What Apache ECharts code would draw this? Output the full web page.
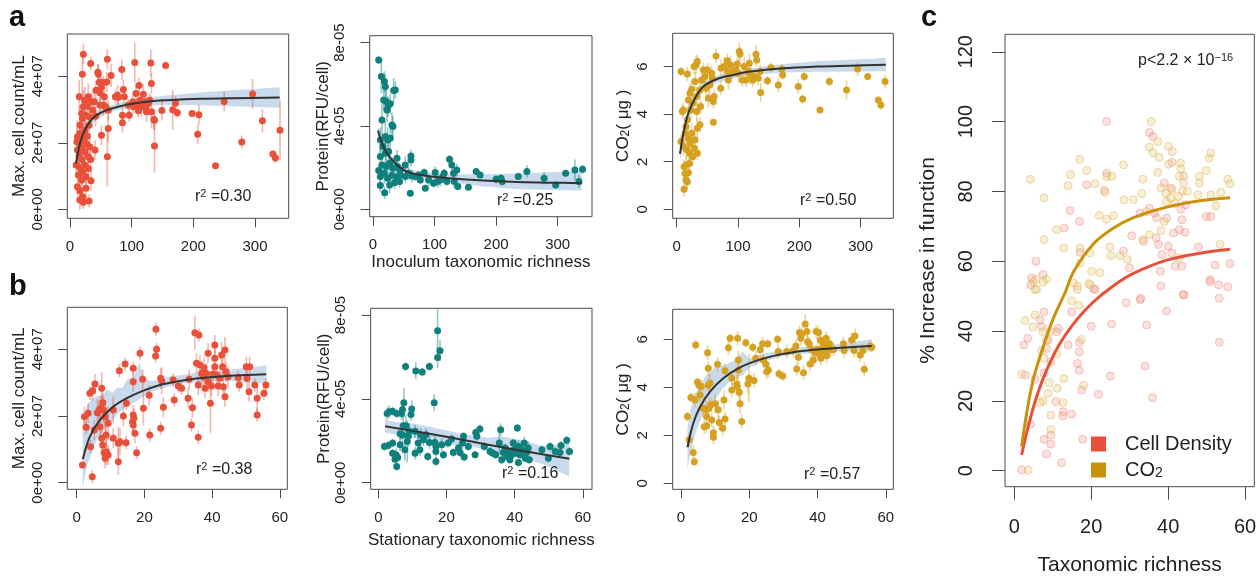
<!DOCTYPE html>
<html><head><meta charset="utf-8">
<script src="https://cdn.jsdelivr.net/npm/echarts@6/dist/echarts.min.js"></script>
<style>html,body{margin:0;padding:0;background:#fff}#c{width:1260px;height:576px}</style>
</head><body><div id="c"></div>
<script>
// ---------------- tick values / labels ----------------
const inocTicks = [0, 100, 200, 300];
const statTicks = [0, 20, 40, 60];
const cellTicks = [0, 2, 4];               // x 1e7
const cellTickLabels = ['0e+00', '2e+07', '4e+07'];
const protTicks = [0, 4, 8];               // x 1e-5
const protTickLabels = ['0e+00', '4e-05', '8e-05'];
const co2Ticks = [0, 2, 4, 6];
const co2TickLabels = ['0', '2', '4', '6'];
const pctTicks = [0, 20, 40, 60, 80, 100, 120];
const pctTickLabels = ['0', '20', '40', '60', '80', '100', '120'];
const r2Labels = ['0.30', '0.25', '0.50', '0.38', '0.16', '0.57'];

// ---------------- a: inoculum richness ([x, y, errHalf]) ----------------
const aCell = [[149,2.97,0.3],[155,4.32,0.12],[166.5,2.99,0.6],[171,3.19,0.2],[174,2.9,0.15],[198,2.88,0.1],[209,2.84,0.3],[207,2.26,0.3],[236,1.31,0.05],[250,3.24,0.3],[278.5,2.02,0.2],[296,3.47,0.45],[312,2.66,0.35],[329,1.66,0.1],[333,1.54,0.15],[340.5,2.38,0.9],[137,1.9,0.8],[136,2.7,0.3],
[105,4.41,0.6],[131,4.4,0.4],[132,3.78,0.3],[112,3.72,0.25],[107,3.48,0.3],[119,3.46,0.3],[102,3.23,0.2],[113.5,3.28,0.2],[122,3.23,0.25],[127,3.18,0.2],[109,3.13,0.2],[116,3.08,0.3],[103,3.08,0.2],[123,3.06,0.2],[124,2.93,0.3],[132,2.93,0.5],[111,2.96,0.2],[96,2.83,0.2],[129,3.28,0.2],[137,2.68,0.3],
[84,4.2,0.3],[86.5,3.6,0.3],[88,3.38,0.2],[77,3.43,0.3],[73.5,3.38,0.2],[78,3.36,0.2],[85,2.83,0.3],[85,2.6,0.3],[94.6,3.13,0.2],[66.5,4.02,0.35],
[60.5,4.51,0.3],[45,4.12,0.25],[46,4.06,0.3],[47.6,3.82,0.3],[54,3.81,0.2],[59.5,3.83,0.3],[51,3.68,0.3],[42,3.58,0.3],[49,3.5,0.4],[55.7,3.38,0.3],[48.6,3.13,0.3],[54,3.13,0.3],[58,3.08,0.2],[62,2.98,0.3],[62,2.43,0.4],[51,2.23,0.3],[60.5,1.58,0.9],[41.6,2.8,0.3],
[21.6,4.66,0.3],[33.5,4.38,0.2],[20,4.06,0.6],[29.7,3.38,0.4],[15,3.38,0.5],[24,3.28,0.4],[35,3.23,0.3],[39.5,3.23,0.4],[28,3.1,0.4],[21.6,3.08,0.5],[36.8,2.98,0.3],[19,2.88,0.5],[25,2.83,0.4],[31,2.78,0.4],[20,2.73,0.5],[16,2.53,0.6],[31,2.53,0.4],[24,2.38,0.5],[16,2.28,0.4],[12,2.18,0.5],[28,2.2,0.4],[21.6,2.1,0.5],[11,2.03,0.4],[16,1.98,0.5],[27,1.96,0.4],[32,1.88,0.4],[19,1.83,0.5],[12,1.78,0.4],[40.5,1.78,0.3],[24,1.73,0.4],[15,1.63,0.5],[29.7,1.58,0.4],[19,1.5,0.5],[33.5,1.5,0.4],[10,1.33,0.3],[24,1.33,0.4],[16,1.25,0.4],[29.7,1.23,0.4],[20.5,1.13,0.4],[13.5,1.03,0.4],[26,0.98,0.4],[19,0.88,0.4],[34,0.86,0.3],[12,0.68,0.3],[26,0.63,0.4],[16,0.56,0.3],[20.5,0.38,0.3],[16,0.28,0.3],[21.6,0.21,0.2],[31,0.25,0.2]];
const aCellFitX = [10,16,24,32,43,59.5,81,103,130,157,211,265,340];
const aCellFitY = [1.38,1.98,2.38,2.63,2.83,2.98,3.1,3.18,3.25,3.28,3.32,3.34,3.36];
const aCellLo = [1.13,1.76,2.2,2.48,2.7,2.88,3.0,3.08,3.13,3.14,3.13,3.1,3.05];
const aCellHi = [1.63,2.2,2.56,2.78,2.96,3.08,3.2,3.28,3.37,3.42,3.51,3.58,3.67];

const aProt = [[9.2,7.17,0.2],[13.5,6.37,0.8],[18.4,6.13,0.5],[20,5.89,0.6],[17.3,5.25,0.5],[21.6,5.17,0.6],[24.3,4.93,0.5],[28,5.06,0.5],[33.5,5.7,0.6],[36.2,5.73,0.4],[14.6,4.29,0.8],[22.7,4.77,0.6],[30.8,4.05,0.6],[32.4,3.97,0.5],[11.9,3.33,0.6],[20,3.49,0.7],[23.8,3.33,0.6],[28,3.41,0.6],[16.2,3.01,0.5],[11.9,2.53,0.6],[20,2.69,0.6],[25.4,2.77,0.5],[38.9,2.45,0.4],
[9.2,1.86,0.3],[14.6,2.13,0.5],[21.6,2.05,0.5],[27,2.21,0.4],[32.4,1.97,0.5],[38.9,2.05,0.4],[44.3,1.89,0.3],[52.4,2.13,0.4],[61.6,2.56,0.3],[61.6,2.37,0.3],[11.9,1.57,0.4],[18.4,1.73,0.5],[23.8,1.49,0.5],[30.8,1.65,0.4],[37.8,1.54,0.4],[44.3,1.65,0.3],[52.4,1.57,0.3],[57.8,1.73,0.3],[63.2,1.6,0.3],[11.9,1.14,0.3],[18.9,0.8,0.3],[27,1.17,0.4],[35,1.28,0.3],[43.2,1.33,0.3],[60.5,0.77,0.1],[68.6,1.57,0.2],[74,1.65,0.2],[76.8,1.41,0.2],[83.2,1.76,0.2],[84.9,1.01,0.1],[90.3,1.41,0.3],[98.4,1.25,0.2],[101,1.76,0.3],[104.9,1.33,0.3],[109.2,1.41,0.3],[113.5,1.57,0.3],[115.7,1.73,0.2],[120,1.33,0.2],[124.3,2.4,0.2],[128,2.13,0.3],[130.8,1.73,0.4],[132,1.33,0.3],[136.2,1.89,0.3],[137.8,1.09,0.1],[155,1.06,0.1],[167.6,1.81,0.1],[174,1.65,0.1],[200,1.44,0.2],[208,1.49,0.2],[210,1.33,0.2],[236,1.57,0.1],[250,1.81,0.3],[278,1.49,0.3],[296.8,1.17,0.1],[313,1.73,0.1],[328,1.89,0.5],[334.6,1.33,0.3],[340.5,1.92,0.2]];
const aProtFitX = [8.1,14.6,22.7,36.2,55,82,125,179.5,233.5,287.6,339];
const aProtFitY = [3.78,3.17,2.69,2.21,1.81,1.62,1.49,1.38,1.31,1.28,1.25];
const aProtLo = [3.56,3.0,2.53,2.07,1.67,1.48,1.3,1.1,0.98,0.93,0.9];
const aProtHi = [4.0,3.35,2.85,2.35,1.95,1.76,1.68,1.68,1.72,1.78,1.84];

const aCO2 = [[7,5.79,0.2],[9.2,4.11,0.3],[10.9,4.18,0.3],[7,2.85,0.3],[10.9,2.64,0.4],[12,1.79,0.3],[15.2,1.86,0.4],[13.6,1.51,0.3],[15.2,1.23,0.4],[12,0.84,0.3],[19,1.54,0.3],[17.4,1.16,0.3],[20.7,1.93,0.4],[13.6,3.2,0.4],[15.2,3.48,0.4],[17.4,3.76,0.4],[19,2.99,0.4],[16.3,2.5,0.4],[21.7,2.78,0.5],[24.5,3.2,0.4],[20.7,2.36,0.4],[26,2.21,0.4],[28.8,2.57,0.4],[29.9,2.92,0.4],[22.8,4.18,0.4],[26,4.46,0.4],[21.7,4.88,0.4],[19,4.6,0.4],[24.5,5.05,0.4],[17.4,5.69,0.3],[29.9,5.37,0.4],[31.5,6.07,0.4],[33.7,6.21,0.3],[28.3,6.0,0.3],[32.6,4.74,0.4],[32.6,4.11,0.4],[33.7,3.41,0.4],[33.7,2.36,0.3],[38,3.55,0.3],[39,4.32,0.3],[38,5.02,0.4],[40.8,5.44,0.4],[43.5,5.86,0.3],[46.2,5.58,0.4],[47.8,5.09,0.4],[50,5.86,0.3],[51.6,4.67,0.4],[54.3,5.23,0.4],[57,5.72,0.3],[58.2,5.51,0.3],[59.8,4.53,0.3],[60.9,4.74,0.3],[59.8,3.66,0.1],[64.1,6.45,0.3],[71.7,5.09,0.3],[72.3,5.93,0.4],[77.2,6.0,0.4],[82.6,6.25,0.3],[83.2,5.79,0.4],[84.2,5.44,0.4],[88,6.07,0.4],[90.8,5.79,0.3],[96.7,5.86,0.3],[100.5,5.72,0.4],[102,6.63,0.4],[103.3,6.53,0.3],[98.9,6.11,0.3],[107,5.44,0.3],[110,6.0,0.4],[113,5.44,0.3],[116.8,5.79,0.4],[118.5,6.14,0.4],[120.6,5.65,0.4],[123.9,5.44,0.3],[126.6,5.58,0.3],[129.3,6.52,0.4],[130.4,6.28,0.3],[133,5.51,0.3],[135.9,5.79,0.3],[137,4.91,0.4],[148,5.4,0.2],[153.8,5.96,0.2],[165.8,5.23,0.3],[171.2,5.9,0.2],[172.8,5.65,0.2],[198.4,5.16,0.3],[205.4,4.64,0.2],[208,5.58,0.2],[233.7,4.18,0.1],[249,5.37,0.2],[277,5.02,0.4],[295,5.9,0.3],[311.4,5.58,0.1],[328.8,4.6,0.1],[333,4.39,0.2],[339.7,5.37,0.3]];
const aCO2FitX = [5.4,10.9,19,29.9,43.5,65,92.4,119.6,174,228,282.6,341];
const aCO2FitY = [2.33,3.2,4.04,4.67,5.16,5.47,5.65,5.79,5.93,6.0,6.04,6.08];
const aCO2Lo = [1.98,2.9,3.79,4.47,4.98,5.32,5.51,5.65,5.75,5.78,5.79,5.8];
const aCO2Hi = [2.68,3.5,4.29,4.87,5.34,5.62,5.79,5.93,6.11,6.22,6.29,6.36];

// ---------------- b: stationary richness ----------------
const bCell = [[1.7,0.53,0.1],[4.6,0.18,0.2],[2.3,1.98,0.3],[2.8,1.66,0.2],[3.4,2.08,0.3],[3.9,2.68,0.2],[4.7,2.76,0.3],[4.1,1.08,0.2],[5.4,2.96,0.3],[5.2,1.58,0.3],[6.1,2.1,0.4],[6.6,2.18,0.3],[7.1,2.23,0.4],[7.4,2.83,0.5],[6.9,1.68,0.4],[7.4,1.33,0.4],[7.7,1.13,0.3],[7.7,2.4,0.5],[7.9,2.18,0.4],[8.4,1.98,0.5],[8.7,1.43,0.4],[8.1,0.9,0.3],[8.4,0.73,0.3],[8.8,0.93,0.4],[9.3,0.83,0.3],[9.3,1.78,0.5],[10.8,2.18,0.4],[10.8,1.33,0.3],[12.3,1.18,0.5],[12.3,0.63,0.4],[12.8,1.23,0.4],[12.6,3.36,0.2],[14.3,3.56,0.2],[13.8,2.0,0.3],[14.6,1.2,0.2],[14.7,2.38,0.2],[16.7,3.43,0.2],[16.7,3.03,0.3],[16.7,2.03,0.3],[16.9,1.93,0.3],[16.5,1.83,0.3],[16.7,1.73,0.3],[17.2,1.48,0.3],[17.7,0.9,0.2],[18.7,3.88,0.2],[19.5,3.1,0.3],[19.7,2.23,0.5],[21.4,2.62,0.3],[21.6,1.43,0.2],[23.4,4.6,0.2],[23.6,4.0,0.2],[23.3,3.8,0.2],[24.8,3.13,0.3],[25.1,3.06,0.4],[25.6,2.26,0.3],[24.8,1.63,0.2],[28.5,3.08,0.2],[28.8,2.48,0.2],[30,2.9,0.2],[31,2.83,0.2],[32.9,2.53,0.3],[33.2,3.1,0.3],[33.9,1.73,0.2],[34.2,2.25,0.3],[34.9,4.5,0.5],[36.1,4.43,0.2],[35.4,3.58,0.3],[35.9,2.93,0.3],[35.9,1.36,0.2],[36.4,3.53,0.3],[36.9,3.28,0.3],[37.4,3.18,0.3],[37.6,3.45,0.3],[37.9,2.83,0.3],[38.3,3.28,0.3],[38.8,3.03,0.3],[38.8,3.88,0.3],[39.5,2.38,0.9],[39.8,2.9,0.3],[40.3,3.26,0.3],[40.8,4.13,0.3],[40.8,3.73,0.3],[40.8,3.48,0.3],[41.3,3.23,0.3],[41.8,2.9,0.3],[42.3,3.13,0.3],[42.8,3.83,0.4],[43.1,3.48,0.3],[43.3,2.88,0.3],[43.8,3.98,0.4],[43.8,2.58,0.3],[44.1,3.33,0.3],[44.7,3.18,0.3],[47.7,3.15,0.2],[48,2.93,0.2],[50.1,3.48,0.3],[50.3,3.13,0.3],[50.9,2.73,0.3],[51.1,3.48,0.3],[52.6,2.93,0.2],[53.3,2.03,0.2],[53.3,2.53,0.4],[55.3,2.68,0.2],[55.9,2.93,0.2]];
const bCellFitX = [1.8,3.9,6.9,10.8,14.7,19.7,24.6,29.5,34.4,39.3,44.2,50.1,56];
const bCellFitY = [0.7,1.38,1.88,2.28,2.53,2.76,2.93,3.03,3.11,3.16,3.2,3.23,3.25];
const bCellBandX = [1.8,3,4.5,6,7.5,9,10.5,12,13.5,15,17,18.5,20,22,25,28,31,34,37,40,43,46,50,53,56];
const bCellLo = [-0.15,0.5,0.9,1.3,1.5,1.75,1.85,2.05,2.2,2.3,2.4,2.5,2.6,2.72,2.82,2.9,2.98,3.0,3.02,3.05,3.05,3.05,3.0,3.0,2.97];
const bCellHi = [1.9,2.3,2.5,2.6,2.6,2.8,2.7,2.85,2.85,3.1,3.2,3.6,3.1,3.05,3.1,3.2,3.22,3.28,3.32,3.33,3.36,3.4,3.45,3.48,3.52];

const bProt = [[17.4,7.25,1.1],[18.1,6.29,0.5],[17.4,5.97,0.5],[8,5.54,0.2],[11,5.33,0.4],[12.9,5.28,0.2],[15,5.54,0.2],[16.4,3.81,0.4],[2.6,3.3,0.3],[3.2,3.38,0.3],[4.2,3.41,0.2],[5.4,3.3,0.2],[7.5,3.81,0.7],[7.1,3.49,0.4],[6.8,3.3,0.3],[9.8,3.52,0.4],[9.6,3.25,0.3],[7.3,2.72,0.4],[8.1,2.72,0.5],[9.1,2.45,0.4],[10.8,2.45,0.3],[8.8,2.21,0.5],[8.5,1.97,1.0],[7.8,1.57,0.5],[7.1,2.26,0.4],[6.4,2.34,0.3],[1.8,1.73,0.2],[2.9,1.78,0.2],[4.2,1.89,0.2],[4.2,1.41,0.2],[5.2,1.33,0.3],[4.9,1.12,0.2],[5.7,1.2,0.2],[5.4,0.77,0.2],[6.4,1.81,0.3],[10.8,1.41,0.3],[11.7,1.89,0.3],[12.2,1.57,0.3],[12.4,2.29,0.3],[13.2,2.05,0.3],[14,2.29,0.3],[14.5,1.25,0.2],[15,1.92,0.3],[16.6,1.92,0.3],[16.9,1.73,0.3],[16.9,1.49,0.3],[16.9,1.01,0.2],[18.6,1.81,0.3],[19.1,1.33,0.2],[20.5,1.89,0.2],[21.5,2.08,0.2],[22,1.44,0.2],[23.5,1.65,0.2],[24,1.44,0.2],[25,2.21,0.2],[24.7,1.89,0.3],[25.2,1.22,0.2],[26.4,1.73,0.2],[28.6,2.4,0.2],[28.9,2.21,0.2],[29.8,2.56,0.2],[28.4,1.33,0.1],[31.1,1.73,0.2],[32.8,1.49,0.2],[33.6,1.41,0.2],[34.5,1.33,0.2],[35.5,1.89,0.5],[35.9,2.53,0.3],[36.2,1.09,0.2],[36.7,1.44,0.3],[37.2,1.65,0.2],[37.7,1.25,0.2],[38.2,1.49,0.2],[38.6,1.09,0.2],[39.1,1.33,0.2],[39.6,1.89,0.2],[39.8,1.57,0.2],[40.4,1.41,0.2],[40.8,2.61,0.2],[41.1,1.73,0.3],[41.1,0.96,0.2],[41.6,1.33,0.2],[42.1,1.57,0.2],[42.8,1.89,0.3],[43.1,1.17,0.2],[43.5,1.44,0.2],[44,1.65,0.3],[44.3,1.09,0.2],[48,1.57,0.2],[49.9,1.17,0.2],[50.4,1.73,0.2],[51.9,1.49,0.2],[53.3,1.44,0.2],[53.6,1.78,0.2],[55.3,2.02,0.2],[56.1,1.49,0.2]];
const bProtFitX = [2,15,28.9,42,56.1];
const bProtFitY = [2.69,2.33,1.92,1.52,1.14];
const bProtBandX = [2,5,8,11,14,17,20,24,28,32,36,40,44,48,52,56];
const bProtLo = [2.4,2.3,2.2,2.1,2.0,1.9,1.85,1.75,1.7,1.55,1.4,1.25,1.1,0.9,0.6,0.3];
const bProtHi = [3.0,2.9,2.85,2.8,2.7,2.6,2.5,2.35,2.25,2.15,2.2,2.1,1.95,1.75,1.8,2.0];

const bCO2 = [[1.9,2.78,0.2],[2.4,1.81,0.3],[2.9,3.58,0.2],[3.6,1.28,0.3],[3.9,0.9,0.2],[4.3,5.76,0.2],[4.1,3.47,0.3],[4.8,4.21,0.2],[5.3,4.07,0.3],[5.6,3.68,0.3],[5.9,4.03,0.3],[6.5,3.13,0.4],[6.8,2.36,0.3],[7.3,3.06,0.4],[7.5,2.39,0.3],[7.5,2.78,0.3],[7.8,5.44,0.3],[8,4.79,0.3],[8,4.1,0.3],[8.2,3.13,0.4],[8.5,4.17,0.4],[8.7,3.26,0.3],[9,2.64,0.3],[9.5,2.11,0.3],[9.5,1.92,0.3],[10,3.31,0.4],[10.7,4.96,0.3],[10.9,3.06,0.4],[11.2,2.53,0.3],[12.2,2.29,0.3],[12.6,3.47,0.4],[12.9,4.69,0.3],[12.9,2.68,0.3],[13.9,5.65,0.3],[14.4,6.04,0.2],[14.9,4.38,0.3],[14.9,3.89,0.3],[16.3,4.13,0.4],[16.5,4.03,0.4],[16.6,6.04,0.3],[16.8,5.14,0.4],[16.8,4.72,0.4],[17.1,3.79,0.5],[17.3,3.31,0.4],[17.8,2.57,0.3],[19,5.86,0.2],[19.6,4.14,0.4],[19.9,4.38,1.0],[21,5.67,0.2],[21.4,4.28,0.3],[21.9,5.21,0.3],[23.2,5.56,0.3],[23.9,5.81,0.3],[24.1,5.14,0.3],[24.9,4.96,0.3],[25.1,4.65,0.3],[25.4,5.81,0.2],[25.6,4.72,0.3],[28.3,6.0,0.2],[28.5,5.49,0.3],[28.7,4.56,0.2],[29.8,4.47,0.2],[31,5.49,0.3],[32.9,5.53,0.3],[33.7,5.72,0.3],[33.9,4.76,0.3],[34.4,5.25,0.3],[34.7,6.28,0.3],[35.1,6.04,0.3],[35.4,6.22,0.3],[35.9,4.61,0.3],[36.4,6.64,0.4],[36.9,6.32,0.3],[37.1,5.9,0.3],[37.6,5.81,0.3],[37.8,4.97,0.3],[38.3,5.56,0.3],[38.8,5.14,0.3],[39.3,5.44,0.3],[39.6,6.32,0.3],[40,5.58,0.3],[40.3,6.28,0.3],[40.6,5.35,0.3],[40.8,5.97,0.3],[41,5.21,0.3],[41.3,5.61,0.3],[41.7,5.81,0.3],[42.2,5.49,0.3],[42.5,6.04,0.3],[42.7,5.31,0.3],[43,5.69,0.3],[43.5,5.81,0.3],[43.9,5.56,0.3],[44.7,5.58,0.3],[47.6,5.81,0.3],[47.8,5.53,0.3],[50,5.97,0.3],[50.7,5.53,0.3],[51,6.14,0.3],[52.5,5.35,0.3],[53.3,5.53,0.3],[53.7,4.75,0.3],[55.4,5.72,0.2],[55.9,5.67,0.2]];
const bCO2FitX = [1.9,3.6,5.6,8.5,12.4,17.3,22.2,27.1,32.9,38.8,44.7,50.5,55.9];
const bCO2FitY = [1.5,2.5,3.19,3.82,4.38,4.83,5.11,5.31,5.46,5.56,5.63,5.68,5.72];
const bCO2BandX = [1.9,3,4.5,6,7.5,9,10.5,12,14,16,18,20,23,26,30,34,38,42,46,50,53,56];
const bCO2Lo = [0.6,1.4,2.2,2.7,3.1,3.3,3.6,3.9,4.2,4.4,4.5,4.8,5.0,5.15,5.3,5.38,5.42,5.48,5.5,5.5,5.5,5.48];
const bCO2Hi = [2.3,3.2,3.8,4.2,4.5,4.7,4.9,4.9,5.0,5.15,5.5,5.2,5.35,5.45,5.58,5.65,5.7,5.75,5.8,5.88,5.95,6.0];

// ---------------- c: % increase in function ----------------
const cCell = [[24,100],[5.6,60],[4.5,55.2],[7.5,56.2],[13,69.5],[14.5,74.5],[17,71.4],[18.8,81.9],[23.4,80.3],[24,85.2],[17.1,62.6],[20.6,52.1],[28.4,62.9],[29.9,58.1],[30.5,67.3],[35.1,96.9],[36,95.7],[35.1,75.2],[36.4,73.8],[37,72.4],[36.9,66.7],[37.5,64.8],[38.4,61.9],[38,57.1],[39,82.4],[39.6,72.4],[40,64.3],[40.7,80.9],[41,88.3],[41.4,68.1],[41.8,58.6],[42.9,69],[43.3,74.9],[43.6,71.9],[43.6,58.6],[44,84.4],[44,50.5],[44.6,76.2],[44.4,68.3],[47.9,64.1],[49.9,72.8],[51.1,72.8],[50.9,54.7],[52.2,58.9],[53.1,53.2],[56.1,59.3],[32.7,73.8],[33.6,65.7],[40.9,62.4],[38.1,52.9],[32.7,49],
[4.3,53.2],[21,51.9],[29.1,48.1],[32.9,49.4],[44,50.3],[50.9,54.1],[53.3,49.4],[55.5,52.7],[39.6,45.7],[34.4,41.7],[34,30],[35.9,20.9],[53.3,36.8],[25.3,42],[20,41.4],[25,27.1],[21.9,21.9],[14.9,45.5],[14,36],[16.9,36.7],[16.9,34.1],[16.4,30.7],[16.9,28.8],[17.5,23.1],[14.9,16.2],[12.6,15.7],[12.7,16.9],[10.8,19.8],[11.4,40.8],[11,39.8],[8.8,37.4],[9.5,31.2],[7.7,45.5],[6.7,43.2],[7.1,41.2],[8.4,35],[7.7,27.9],[5.4,26.2],[2.5,36],[3.5,37.9],[2.9,27.4],[4.2,13.3],[7.7,9],[8.4,4.8],[9.5,7.6],[9.5,10.2],[12.3,2.3],[17.8,9],[1.9,0.2]];
const cCO2 = [[35.6,100],[4.2,83.5],[7.7,78.1],[17,89.2],[14.6,84.8],[14,81.6],[18.8,86],[21,82.2],[24,84.3],[25.3,84.3],[28.4,87.6],[28.5,77.6],[31,77.6],[33.1,79.4],[33.4,83.5],[35.1,92.7],[36.1,91.1],[37.3,94.3],[37.3,85.4],[37.7,89.8],[40.1,92.9],[41.1,91.4],[40.1,87.8],[43.2,88.1],[43.3,86.5],[42.9,84.3],[44,82.4],[43.7,80],[38.2,81],[39.4,79.5],[39.6,77.1],[40.7,78.1],[41.8,76.5],[42.7,78.6],[45,80],[47.7,79],[48.1,84.4],[48.1,82.4],[49.9,86],[50.7,89.5],[51.1,91],[51.1,79],[52.4,75.9],[53.7,79.7],[55.5,83.5],[56.1,82.2],[23.6,79.7],[24,72],[22.1,73.1],[25.8,73],[34.4,74.2],[35.1,67.6],[39,71.4],[38.2,68.8],[53.5,64.8],[11,69],[12.8,63.8],[7.7,66.2],[17.1,63.8],[19.7,62.4],[17.1,59.5],[20.1,57.1],[22.3,56.7],[24.9,64.1],[25.1,61.6],[27.5,61.6],[29.4,60.5],[33.4,66.2],[42.9,61],[41,80.5],[5.6,54.8],[8.4,54.8],[7.5,54],[5.4,51.9],[15.4,53.8],[19.4,53.6],[16.4,51.9],
[5.8,51.9],[4.9,54.1],[14.9,48.7],[16.4,52.9],[16.8,47.4],[19.7,53.2],[5.4,44.6],[2.8,43],[4.8,41.2],[7.5,39.8],[8.4,37.4],[9.3,39.8],[11,33.4],[7.1,34.4],[7.7,32.2],[9.1,25.2],[11.2,23.6],[12.9,26.4],[8.8,22.1],[7.5,20],[6.7,19.5],[12.7,19.5],[9.5,15.9],[9.5,11.8],[1.9,27.7],[3.6,0.2],[17.5,37.6],[18,24.5]];
const cCellFitX = [1.9,3.6,5.8,8.4,11.9,16.2,20.6,25.8,31,39.6,48.3,56.1];
const cCellFitY = [4.5,12.6,21.2,28.8,36.5,43.2,48.4,53,56.5,60.3,62.3,63.4];
const cCO2FitX = [1.9,3.2,4.9,7.5,10.1,13.2,15.4,20.6,25.8,31,39.6,48.3,56.1];
const cCO2FitY = [6.9,16.4,26,35.5,43.5,51,57,65,69.5,72.5,75.5,77.3,78.2];

// ---------------- layout / style ----------------
const FONT = '"Liberation Sans", Arial, Helvetica, sans-serif';
const TXT = '#222';
const RED = '#e8503a', TEAL = '#10807c', GOLD = '#d6a021';
const RED_E = 'rgba(232,80,58,0.42)', TEAL_E = 'rgba(16,128,124,0.45)', GOLD_E = 'rgba(214,160,33,0.45)';
const BAND = 'rgba(190,212,232,0.85)';
const subRich = (fs) => ({
  n: {fontSize: fs, lineHeight: Math.round(fs * 1.15), color: TXT, fontFamily: FONT, fontWeight: 'normal'},
  s: {fontSize: Math.round(fs * 0.72), color: TXT, fontFamily: FONT, fontWeight: 'normal', verticalAlign: 'bottom'},
  u: {fontSize: Math.round(fs * 0.7), lineHeight: Math.round(fs * 0.5), color: TXT, fontFamily: FONT, fontWeight: 'normal', verticalAlign: 'top'}
});

const P = [
  {box:[67.3,34,288.7,218.3], x:[-4.4,354.6], y:[-0.27,5.27], xt:inocTicks, yt:cellTicks, ytl:cellTickLabels, yname:'Max. cell count/mL', yng:39},
  {box:[369.7,35.7,592,216.7], x:[-5.4,355.8], y:[-0.355,8.33], xt:inocTicks, yt:protTicks, ytl:protTickLabels, yname:'Protein(RFU/cell)', yng:38, xname:'Inoculum taxonomic richness', xng:36},
  {box:[672.7,33.3,893.3,218.3], x:[-6.5,353.2], y:[-0.379,7.40], xt:inocTicks, yt:co2Ticks, ytl:co2TickLabels, yname:'{n|CO}{s|2}{n|( μg )}', yng:41},
  {box:[67.3,307.3,287.3,489.3], x:[-2.77,62.2], y:[-0.2,5.26], xt:statTicks, yt:cellTicks, ytl:cellTickLabels, yname:'Max. cell count/mL', yng:39},
  {box:[370.7,308.3,592,489.3], x:[-2.23,62.7], y:[-0.315,8.32], xt:statTicks, yt:protTicks, ytl:protTickLabels, yname:'Protein(RFU/cell)', yng:38, xname:'Stationary taxonomic richness', xng:43},
  {box:[672.7,309.3,893.3,489.3], x:[-2.43,62.2], y:[-0.25,7.25], xt:statTicks, yt:co2Ticks, ytl:co2TickLabels, yname:'{n|CO}{s|2}{n|( μg )}', yng:41},
  {box:[1005,34.3,1254.3,486.7], x:[-2.42,62.4], y:[-4.58,125.0], xt:statTicks, yt:pctTicks, ytl:pctTickLabels, yname:'% Increase in function', yng:66, xname:'Taxonomic richness', xng:68, tick:13, xm:31, ym:29, fs:20, nfs:21}
];

const grids = [], xAxes = [], yAxes = [];
P.forEach((p, i) => {
  const tick = p.tick || 9, fs = p.fs || 15, nfs = p.nfs || 17;
  grids.push({left:p.box[0], top:p.box[1], width:p.box[2]-p.box[0], height:p.box[3]-p.box[1],
    show:true, borderColor:'#4a4a4a', borderWidth:1, backgroundColor:'rgba(0,0,0,0)', containLabel:false, outerBoundsMode:'none'});
  xAxes.push({gridIndex:i, type:'value', min:p.x[0], max:p.x[1], position:'bottom',
    splitLine:{show:false}, axisLine:{show:false, onZero:false},
    axisTick:{show:true, length:tick, customValues:p.xt, lineStyle:{color:'#4a4a4a', width:1}},
    axisLabel:{show:true, customValues:p.xt, margin:p.xm || 21, fontSize:fs, color:TXT, fontFamily:FONT},
    name:p.xname || '', nameLocation:'middle', nameGap:p.xng || 30,
    nameTextStyle:{fontSize:nfs, color:TXT, fontFamily:FONT}});
  yAxes.push({gridIndex:i, type:'value', min:p.y[0], max:p.y[1], position:'left',
    splitLine:{show:false}, axisLine:{show:false, onZero:false},
    axisTick:{show:true, length:tick, customValues:p.yt, lineStyle:{color:'#4a4a4a', width:1}},
    axisLabel:{show:true, customValues:p.yt, rotate:90, margin:p.ym || 22, fontSize:fs, color:TXT, fontFamily:FONT,
      formatter:(v) => { const k = p.yt.indexOf(v); return k >= 0 ? p.ytl[k] : ''; }},
    name:p.yname, nameLocation:'middle', nameGap:p.yng, nameRotate:90,
    nameTextStyle:{fontSize:nfs, color:TXT, fontFamily:FONT, rich:{
      n:{fontSize:nfs, color:TXT, fontFamily:FONT},
      s:{fontSize:Math.round(nfs*0.72), color:TXT, fontFamily:FONT, verticalAlign:'bottom'}}}});
});

const zip = (a, b) => a.map((v, k) => [v, b[k]]);
function bandSeries(i, bx, lo, hi) {
  return {type:'custom', xAxisIndex:i, yAxisIndex:i, data:[[bx[0], lo[0]]], z:1, silent:true, clip:true,
    encode:{x:0, y:1},
    renderItem:(params, api) => {
      const pts = [];
      for (let k = 0; k < bx.length; k++) pts.push(api.coord([bx[k], hi[k]]));
      for (let k = bx.length - 1; k >= 0; k--) pts.push(api.coord([bx[k], lo[k]]));
      return {type:'polygon', shape:{points:pts}, style:{fill:BAND}};
    }};
}
function errSeries(i, data, color) {
  return {type:'custom', xAxisIndex:i, yAxisIndex:i, data:data, z:2, silent:true, clip:true,
    encode:{x:0, y:1},
    renderItem:(params, api) => {
      const x = api.value(0), y = api.value(1), e = api.value(2);
      const a = api.coord([x, y - e]), b = api.coord([x, y + e]);
      return {type:'line', shape:{x1:a[0], y1:a[1], x2:b[0], y2:b[1]}, style:{stroke:color, lineWidth:1.6}};
    }};
}
function ptSeries(i, data, color) {
  return {type:'scatter', xAxisIndex:i, yAxisIndex:i, data:data.map(d => [d[0], d[1]]), symbol:'circle',
    symbolSize:7, itemStyle:{color:color, opacity:1}, z:3, silent:true};
}
function fitSeries(i, fx, fy) {
  return {type:'line', xAxisIndex:i, yAxisIndex:i, data:zip(fx, fy), smooth:0.35, showSymbol:false,
    lineStyle:{color:'#333', width:2}, z:4, silent:true};
}

const panelsData = [
  [aCell, RED, RED_E, aCellFitX, aCellFitY, aCellFitX, aCellLo, aCellHi],
  [aProt, TEAL, TEAL_E, aProtFitX, aProtFitY, aProtFitX, aProtLo, aProtHi],
  [aCO2, GOLD, GOLD_E, aCO2FitX, aCO2FitY, aCO2FitX, aCO2Lo, aCO2Hi],
  [bCell, RED, RED_E, bCellFitX, bCellFitY, bCellBandX, bCellLo, bCellHi],
  [bProt, TEAL, TEAL_E, bProtFitX, bProtFitY, bProtBandX, bProtLo, bProtHi],
  [bCO2, GOLD, GOLD_E, bCO2FitX, bCO2FitY, bCO2BandX, bCO2Lo, bCO2Hi]
];
const series = [];
panelsData.forEach((d, i) => {
  series.push(bandSeries(i, d[5], d[6], d[7]));
  series.push(errSeries(i, d[0], d[2]));
  series.push(ptSeries(i, d[0], d[1]));
  series.push(fitSeries(i, d[3], d[4]));
});
// panel c
series.push({type:'scatter', name:'cell pts', xAxisIndex:6, yAxisIndex:6, data:cCell, symbolSize:8,
  itemStyle:{color:'rgba(240,150,138,0.35)', borderColor:'rgba(232,110,95,0.45)', borderWidth:1}, z:2, silent:true});
series.push({type:'scatter', name:'co2 pts', xAxisIndex:6, yAxisIndex:6, data:cCO2, symbolSize:8,
  itemStyle:{color:'rgba(232,200,120,0.38)', borderColor:'rgba(214,170,60,0.5)', borderWidth:1}, z:2, silent:true});
series.push({type:'line', name:'Cell Density', xAxisIndex:6, yAxisIndex:6, data:zip(cCellFitX, cCellFitY), smooth:0.35,
  showSymbol:false, lineStyle:{color:'#e8503a', width:3}, itemStyle:{color:'#e8503a'}, z:4, silent:true});
series.push({type:'line', name:'CO2', xAxisIndex:6, yAxisIndex:6, data:zip(cCO2FitX, cCO2FitY), smooth:0.35,
  showSymbol:false, lineStyle:{color:'#c8930a', width:3}, itemStyle:{color:'#c8930a'}, z:4, silent:true});

// r² annotations and panel letters
const r2Pos = [[195,188],[497,192],[800,192],[196,461],[502,465],[804,466]];
const titles = r2Pos.map((pos, k) => ({text:'{n|r}{u|2}{n| =' + r2Labels[k] + '}', left:pos[0], top:pos[1], padding:0,
  textStyle:{fontWeight:'normal', rich:subRich(16)}}));
[['a',9,3],['b',9,272],['c',921,3]].forEach(l => titles.push({text:l[0], left:l[1], top:l[2], padding:0,
  textStyle:{fontSize:29, fontWeight:'bold', color:'#111', fontFamily:FONT}}));
titles.push({text:'{n|p<2.2 × 10}{u|−16}', left:1138, top:52, padding:0, textStyle:{fontWeight:'normal', rich:subRich(16)}});

const chart = echarts.init(document.getElementById('c'), null, {renderer:'canvas'});
chart.setOption({
  animation:false,
  backgroundColor:'#fff',
  textStyle:{fontFamily:FONT},
  title:titles,
  grid:grids, xAxis:xAxes, yAxis:yAxes,
  legend:{data:[{name:'Cell Density', icon:'rect'}, {name:'CO2', icon:'rect'}], orient:'vertical',
    left:1091, top:434, itemWidth:15, itemHeight:15, itemGap:6, selectedMode:false, padding:0,
    formatter:(n) => n === 'CO2' ? '{t|CO}{s|2}' : '{t|Cell Density}',
    textStyle:{fontSize:20, color:TXT, fontFamily:FONT,
      rich:{t:{fontSize:20, color:TXT, fontFamily:FONT, padding:[0,0,0,14]}, s:{fontSize:14, color:TXT, fontFamily:FONT, verticalAlign:'bottom'}}}},
  series:series
});
</script></body></html>
